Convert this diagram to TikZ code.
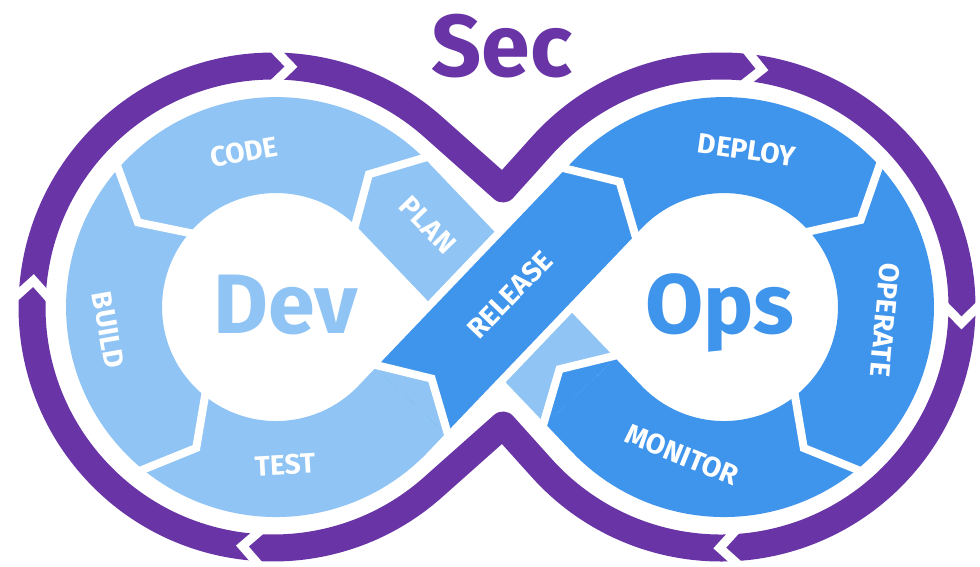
\documentclass[tikz,border=0pt]{standalone}
\usepackage{fontspec}
\setmainfont{Fira Sans}
\usepackage{tikz}
\usetikzlibrary{calc}

\definecolor{secpurple}{RGB}{104,52,166}
\definecolor{opsblue}{RGB}{63,148,236}
\definecolor{devblue}{RGB}{143,196,244}

\tikzset{
	secband/.style = {draw=secpurple, line width=0.54cm, line join=round},
	secgap/.style = {draw=white, line width=0.18cm, line join=miter},
	track/.style = {line width=1.92cm},
	trackgap/.style = {draw=white, line width=0.16cm, line join=miter},
	stage/.style = {text=white, inner sep=0pt, font=\bfseries\fontsize{16}{16}\selectfont},
	bigword/.style = {inner sep=0pt, anchor=base, font=\bfseries\fontsize{48}{48}\selectfont}
}

\begin{document}
\begin{tikzpicture}[x=0.02cm, y=0.02cm]
	\fill[white] (0,0) rectangle (980,566);
	\useasboundingbox (0,0) rectangle (980,566);
	\coordinate (pl) at (273,259);
	\coordinate (pr) at (721,259);
	\coordinate (cl) at (276,259);
	\coordinate (cr) at (724,259);
	% outer band
	\draw[secband] (503,377) -- ($(pr)+(138:241)$) arc[start angle=138, end angle=-138, radius=241]
		-- (503,141) -- ($(pl)+(-48.4:241)$) arc[start angle=-48.4, end angle=-311.6, radius=241] -- cycle;
	\foreach \ctr/\ang in {pl/90, pl/178, pl/267, pr/84.5, pr/0.5, pr/274}
		\draw[secgap] ($(\ctr)+(\ang:259)$) -- ($(\ctr)+({\ang-4.3}:241)$) -- ($(\ctr)+(\ang:223)$);
	% dev loop, then release on top of plan
	\draw[track, devblue] (580.6,174.7) -- (393.2,370.8) arc[start angle=43.67, end angle=316.33, radius=162] -- (410.5,165.3);
	\draw[white, line width=2.24cm] (410.5,165.3) -- (606.8,370.8);
	\draw[track, opsblue] (410.5,165.3) -- (606.8,370.8) arc[start angle=136.33, end angle=-136.33, radius=162] -- (580.6,174.7);
	% heads of test and monitor
	\fill[devblue] (445.2,132.2) -- (431.6,187.4) -- (375.8,198.4) -- cycle;
	\fill[opsblue] (615.3,207.8) -- (559.5,196.8) -- (545.9,141.6) -- cycle;
	% arrow cuts
	\foreach \ang in {44.5, 138, 230}
		\draw[trackgap] ($(cl)+(\ang:215)$) -- ($(cl)+({\ang+10.5}:162)$) -- ($(cl)+(\ang:109)$);
	\foreach \ang in {43, -50}
		\draw[trackgap] ($(cr)+(\ang:215)$) -- ($(cr)+({\ang-10.5}:162)$) -- ($(cr)+(\ang:109)$);
	\draw[trackgap] (448.8,128.7) -- (431.6,187.4) -- (372.2,201.9);
	\draw[trackgap] (636.8,325.5) -- (619.6,384.2) -- (560.2,398.7);
	\draw[trackgap] (619,211.3) -- (559.5,196.8) -- (542.3,138.1);
	% words
	\node[bigword, text=secpurple, font=\bfseries\fontsize{50}{50}\selectfont] (sec) at (502,490) {Sec};
	\node[bigword, text=devblue] (dev) at (286,233) {Dev};
	\node[bigword, text=opsblue] (ops) at (720,233) {Ops};
	\node[stage, rotate=10] (code) at (244,414) {CODE};
	\node[stage, rotate=-46] (plan) at (428,341) {PLAN};
	\node[stage, rotate=46] (release) at (510,271) {RELEASE};
	\node[stage, rotate=-8] (deploy) at (747,416) {DEPLOY};
	\node[stage, rotate=-95] (operate) at (885,246) {OPERATE};
	\node[stage, rotate=-22] (monitor) at (682,111) {MONITOR};
	\node[stage, rotate=3] (test) at (285,101) {TEST};
	\node[stage, rotate=-80] (build) at (108,236) {BUILD};
\end{tikzpicture}
\end{document}
